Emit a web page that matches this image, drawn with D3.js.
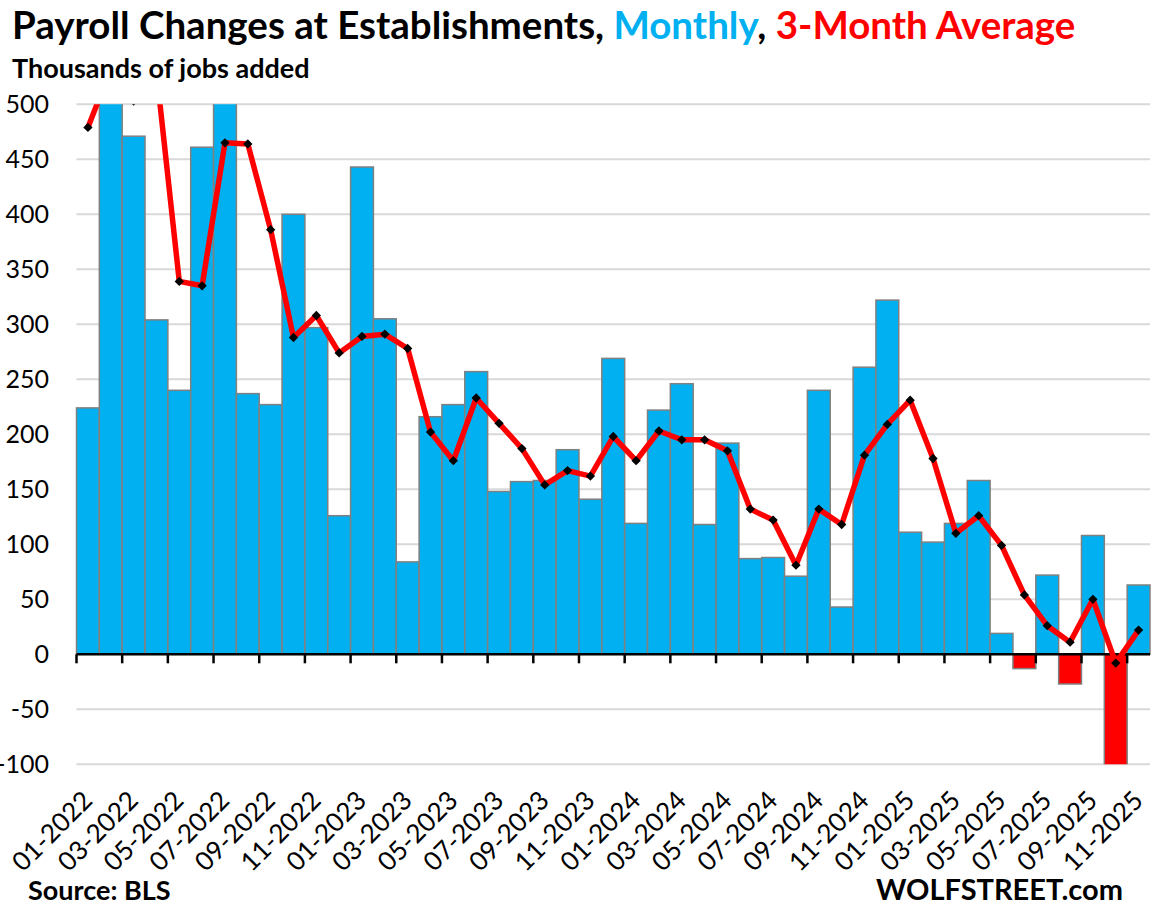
<!DOCTYPE html>
<html>
<head>
<meta charset="utf-8">
<script src="https://cdn.jsdelivr.net/npm/d3@7"></script>
<style>
  body { margin: 0; background: #fff; }
  svg { display: block; font-family: Lato, "Open Sans", sans-serif; }
</style>
</head>
<body>
<svg id="chart" width="1165" height="917"></svg>
<script>
// months on the x axis
const months = [
  "01-2022","02-2022","03-2022","04-2022","05-2022","06-2022","07-2022","08-2022","09-2022","10-2022","11-2022","12-2022",
  "01-2023","02-2023","03-2023","04-2023","05-2023","06-2023","07-2023","08-2023","09-2023","10-2023","11-2023","12-2023",
  "01-2024","02-2024","03-2024","04-2024","05-2024","06-2024","07-2024","08-2024","09-2024","10-2024","11-2024","12-2024",
  "01-2025","02-2025","03-2025","04-2025","05-2025","06-2025","07-2025","08-2025","09-2025","10-2025","11-2025"
];
// monthly payroll change, thousands
const monthly = [
  224, 815, 471, 304, 240, 461, 694, 237, 227, 400, 297, 126,
  443, 305, 84, 216, 227, 257, 148, 157, 158, 186, 141, 269,
  119, 222, 246, 118, 192, 87, 88, 71, 240, 43, 261, 322,
  111, 102, 119, 158, 19, -13, 72, -27, 108, -105, 63
];
// 3-month average, thousands
const avg3 = [
  479, 532, 503, 530, 339, 335, 465, 464, 386, 288, 308, 274,
  289, 291, 278, 202, 176, 233, 210, 187, 154, 167, 162, 198,
  176, 203, 195, 195, 185, 132, 122, 81, 132, 118, 181, 209,
  231, 178, 110, 126, 99, 54, 26, 11, 50, -8, 22
];
const yTicks = [-100, -50, 0, 50, 100, 150, 200, 250, 300, 350, 400, 450, 500];
const xLabels = months.filter((d, i) => i % 2 === 0);

const svg = d3.select("#chart");
const plot = { left: 76.5, right: 1150, top: 104.3, bottom: 764.3 };

const x = d3.scaleBand().domain(months).range([plot.left, plot.right]).padding(0);
const y = d3.scaleLinear().domain([-100, 500]).range([plot.bottom, plot.top]);

// clip so the big bars / line get cut at 500 and -100
svg.append("defs").append("clipPath").attr("id", "plot")
  .append("rect")
  .attr("x", plot.left - 2).attr("y", plot.top)
  .attr("width", plot.right - plot.left + 4).attr("height", plot.bottom - plot.top);

// gridlines
svg.append("g")
  .selectAll("line")
  .data(yTicks.filter(d => d !== 0))
  .enter().append("line")
  .attr("x1", plot.left).attr("x2", plot.right)
  .attr("y1", d => y(d)).attr("y2", d => y(d))
  .attr("stroke", "#d9d9d9")
  .attr("stroke-width", 2);

// y labels
svg.append("g")
  .selectAll("text")
  .data(yTicks)
  .enter().append("text")
  .attr("x", 49)
  .attr("y", d => y(d))
  .attr("dy", "0.36em")
  .attr("text-anchor", "end")
  .style("font-size", "25px")
  .attr("fill", "#000")
  .text(d => d);

// bars
svg.append("g")
  .attr("clip-path", "url(#plot)")
  .selectAll("rect")
  .data(monthly)
  .enter().append("rect")
  .attr("x", (d, i) => x(months[i]))
  .attr("width", x.bandwidth())
  .attr("y", d => y(Math.max(d, 0)))
  .attr("height", d => Math.abs(y(d) - y(0)))
  .attr("fill", d => d < 0 ? "#ff0000" : "#00b0f0")
  .attr("stroke", "#808080")
  .attr("stroke-width", 1.5);

// x axis line + ticks every two months
const xAxis = d3.axisBottom(x)
  .tickValues(xLabels)
  .tickSize(9)
  .tickFormat("");
const gx = svg.append("g")
  .attr("transform", `translate(0, ${y(0)})`)
  .call(xAxis);
gx.select(".domain").attr("stroke", "#000").attr("stroke-width", 2.5)
  .attr("d", `M${plot.left},0H${plot.right}`);
gx.selectAll(".tick line")
  .attr("transform", `translate(${-x.bandwidth() / 2}, 0)`)
  .attr("stroke", "#000").attr("stroke-width", 2.5);

// rotated month labels
svg.append("g")
  .selectAll("text")
  .data(xLabels)
  .enter().append("text")
  .attr("transform", d => `translate(${x(d) + x.bandwidth() / 2 + 6}, 802) rotate(-45)`)
  .attr("text-anchor", "end")
  .style("font-size", "26px")
  .attr("fill", "#000")
  .text(d => d);

// 3-month average line
const line = d3.line()
  .x((d, i) => x(months[i]) + x.bandwidth() / 2)
  .y(d => y(d));
const lineG = svg.append("g").attr("clip-path", "url(#plot)");
lineG.append("path")
  .datum(avg3)
  .attr("fill", "none")
  .attr("stroke", "#ff0000")
  .attr("stroke-width", 5.5)
  .attr("stroke-linejoin", "round")
  .attr("d", line);
lineG.selectAll("path.dot")
  .data(avg3)
  .enter().append("path")
  .attr("class", "dot")
  .attr("d", d3.symbol().type(d3.symbolDiamond2).size(55))
  .attr("transform", (d, i) => `translate(${x(months[i]) + x.bandwidth() / 2}, ${y(d)})`)
  .attr("fill", "#000");

// titles
const title = svg.append("text")
  .attr("x", 12).attr("y", 39)
  .style("font-size", "38.5px")
  .style("font-weight", "bold");
title.append("tspan").attr("fill", "#000").text("Payroll Changes at Establishments, ");
title.append("tspan").attr("fill", "#00b0f0").text("Monthly");
title.append("tspan").attr("fill", "#000").text(", ");
title.append("tspan").attr("fill", "#ff0000").text("3-Month Average");

svg.append("text")
  .attr("x", 12).attr("y", 78)
  .style("font-size", "27px")
  .style("font-weight", "bold")
  .text("Thousands of jobs added");

svg.append("text")
  .attr("x", 28).attr("y", 900)
  .style("font-size", "27px")
  .style("font-weight", "bold")
  .text("Source: BLS");

svg.append("text")
  .attr("x", 1123).attr("y", 900)
  .attr("text-anchor", "end")
  .style("font-size", "29px")
  .style("font-weight", "bold")
  .text("WOLFSTREET.com");
</script>
</body>
</html>
